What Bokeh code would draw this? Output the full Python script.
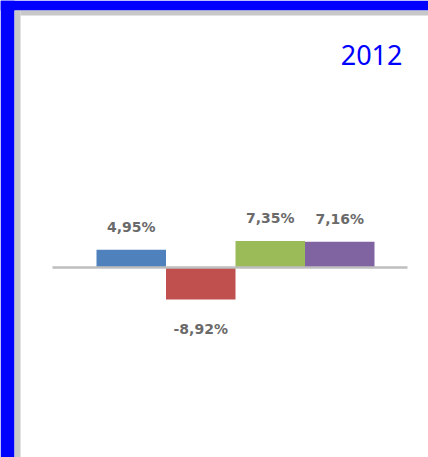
from bokeh.plotting import figure
from bokeh.models import Range1d, BoxAnnotation, ColumnDataSource
from bokeh.core.properties import value
from bokeh.embed import file_html
from bokeh.resources import INLINE

# ---- data ----
categories = ["A", "B", "C", "D"]
values = [4.95, -8.92, 7.35, 7.16]
labels = ["4,95%", "-8,92%", "7,35%", "7,16%"]
colors = ["#4F81BD", "#C0504D", "#9BBB59", "#8064A2"]
title_text = "2012"

# ---- layout (pixels) ----
W, H = 428, 457
PX_X = 69.5          # px per category
PX_Y = 3.6           # px per percentage point
BAR0_LEFT = 96       # px of first bar's left edge
ZERO_Y = 267         # px of zero line from top

x0 = -0.5 - BAR0_LEFT / PX_X
x1 = x0 + W / PX_X
y_top = ZERO_Y / PX_Y
y_bot = y_top - H / PX_Y


def px_x(px):
    return x0 + px / PX_X


def px_y(py):
    return y_top - py / PX_Y


p = figure(width=W, height=H, output_backend="svg", toolbar_location=None,
           x_range=Range1d(x0, x1), y_range=Range1d(y_bot, y_top),
           min_border=0, min_border_left=0, min_border_right=0,
           min_border_top=0, min_border_bottom=0)
p.axis.visible = False
p.grid.visible = False
p.outline_line_color = None
p.background_fill_color = "white"
p.border_fill_color = "white"

# frame decorations: blue outer border, grey inner border (top & left)
for kw, col in [
    (dict(right=px_x(14)), "#0000FF"),
    (dict(bottom=px_y(10)), "#0000FF"),
    (dict(left=px_x(14), right=px_x(20), top=px_y(10)), "#C8C8C8"),
    (dict(left=px_x(20), top=px_y(10), bottom=px_y(15)), "#C8C8C8"),
]:
    p.add_layout(BoxAnnotation(fill_color=col, fill_alpha=1.0, line_color=None,
                               level="underlay", **kw))

xs = list(range(len(categories)))
src = ColumnDataSource(dict(x=xs, top=values, bottom=[0] * len(values),
                            color=colors, label=labels))

p.vbar(x="x", width=1.0, top="top", bottom="bottom", fill_color="color",
       line_color=None, source=src)

# zero baseline
p.segment(x0=[px_x(52)], y0=[0], x1=[px_x(407)], y1=[0],
          line_color="#BEBEBE", line_width=2.5)

pos_src = ColumnDataSource(dict(x=[x for x, v in zip(xs, values) if v >= 0],
                                y=[v for v in values if v >= 0],
                                t=[l for l, v in zip(labels, values) if v >= 0]))
neg_src = ColumnDataSource(dict(x=[x for x, v in zip(xs, values) if v < 0],
                                y=[v for v in values if v < 0],
                                t=[l for l, v in zip(labels, values) if v < 0]))

lab_kw = dict(text_align="center", text_font=value("DejaVu Sans"),
              text_font_size="14px", text_font_style="bold",
              text_color="#6a6a6a")
p.text(x="x", y="y", text="t", source=pos_src, text_baseline="bottom",
       y_offset=-15, **lab_kw)
p.text(x="x", y="y", text="t", source=neg_src, text_baseline="top",
       y_offset=21, **lab_kw)

# title
p.text(x=[px_x(402)], y=[px_y(54)], text=[title_text], text_align="right",
       text_baseline="middle", text_font=value("Noto Sans"),
       text_font_size="27px", text_color="#0000FF")

open("out.html", "w").write(file_html(p, INLINE))
